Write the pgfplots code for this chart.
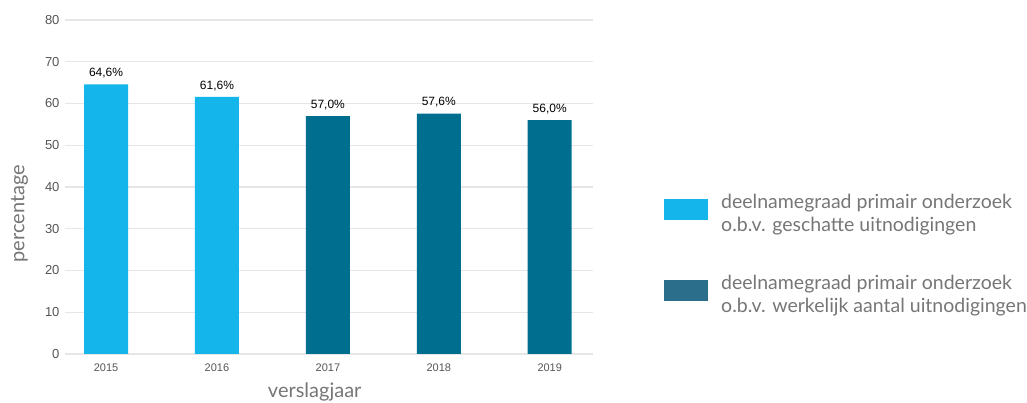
\documentclass[border=0pt]{standalone}
\usepackage{pgfplots}
\pgfplotsset{compat=1.18}
\usepackage{fontspec}
\setmainfont{Lato}
\newfontfamily\arial{Liberation Sans}
\definecolor{lightb}{HTML}{13B5EA}
\definecolor{darkb}{HTML}{006E8E}
\definecolor{legdark}{HTML}{2A6E8C}
\definecolor{gridc}{HTML}{E6E6E6}
\definecolor{labc}{HTML}{767676}
\definecolor{tickc}{HTML}{555555}
\begin{document}
\begin{tikzpicture}
\useasboundingbox (-65pt,-49pt) rectangle (962pt,354pt);
\begin{axis}[
  scale only axis, width=528pt, height=334pt,
  xmin=-0.37, xmax=4.39, ymin=0, ymax=80,
  ytick={0,10,...,80},
  xtick={0,1,2,3,4}, xticklabels={2015,2016,2017,2018,2019},
  ymajorgrids, grid style={gridc, line width=1.3pt},
  axis line style={draw=none},
  tick style={draw=none},
  /pgf/number format/assume math mode=true,
  yticklabel style={font=\arial\fontsize{13}{13}\selectfont, text=tickc, xshift=-2pt},
  xticklabel style={font=\arial\fontsize{11}{11}\selectfont, text=tickc, yshift=-2pt},
  xlabel={verslagjaar}, ylabel={percentage},
  label style={font=\fontsize{20}{20}\selectfont, text=labc},
  xlabel style={at={(ticklabel cs:0.473)}, yshift=-4.5pt},
  ylabel style={at={(ticklabel cs:0.42)}, yshift=10pt},
  ybar, bar width=44pt, bar shift=0pt,
  nodes near coords, point meta=explicit symbolic,
  nodes near coords style={font=\arial\fontsize{12}{12}\selectfont, black, yshift=2.5pt},
  legend image code/.code={\fill[#1] (0pt,-19pt) rectangle (44pt,2pt); \path (57pt,0pt) (0pt,-72pt);},
  legend style={at={(1.1345,0.485)}, anchor=north west, draw=none, fill=none,
    inner sep=0pt, font=\fontsize{19.5}{23}\selectfont,
    nodes={text=labc, inner sep=0pt}},
  legend cell align=left,
]
\addplot[fill=lightb, draw=none, forget plot] coordinates {(0,64.6)[64,6\%] (1,61.6)[61,6\%]};
\addplot[fill=darkb, draw=none, forget plot] coordinates {(2,57.0)[57,0\%] (3,57.6)[57,6\%] (4,56.0)[56,0\%]};
\addlegendimage{fill=lightb, draw=none}
\addlegendentry{\begin{tabular}[t]{@{}l@{}}deelnamegraad primair onderzoek\\o.b.v. geschatte uitnodigingen\end{tabular}}
\addlegendimage{fill=legdark, draw=none}
\addlegendentry{\begin{tabular}[t]{@{}l@{}}deelnamegraad primair onderzoek\\o.b.v. werkelijk aantal uitnodigingen\end{tabular}}
\end{axis}
\end{tikzpicture}
\end{document}
